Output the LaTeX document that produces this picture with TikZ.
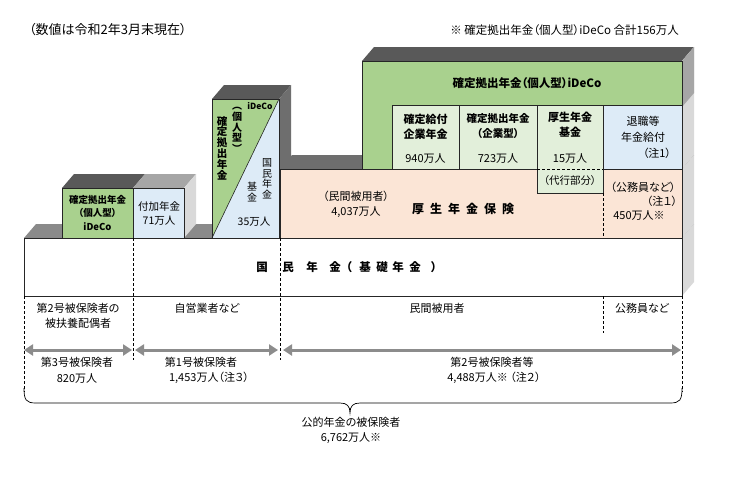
\documentclass[tikz,border=0pt]{standalone}
\usepackage{fontspec}
\setmainfont{Noto Sans CJK JP}[RawFeature={+palt}]
\usetikzlibrary{arrows.meta}
\definecolor{gA}{HTML}{A9D18E}
\definecolor{gB}{HTML}{E2EFDA}
\definecolor{bA}{HTML}{DDEBF7}
\definecolor{oA}{HTML}{FBE5D6}
\definecolor{dk}{HTML}{595959}
\definecolor{dm}{HTML}{6E6E6E}
\definecolor{md}{HTML}{8A8A8A}
\definecolor{mg}{HTML}{A6A6A6}
\definecolor{lt}{HTML}{D9D9D9}
\definecolor{arr}{HTML}{8C8C8C}
\begin{document}
\begin{tikzpicture}[x=1pt,y=-1pt,
 box/.style={draw=black!85, line width=0.6pt},
 t/.style={inner sep=0pt, align=center, font=\fontsize{11}{15}\selectfont},
 tb/.style={inner sep=0pt, align=center, font=\fontsize{11}{15}\selectfont\bfseries},
 dsh/.style={draw=black, line width=0.5pt, dash pattern=on 3pt off 2pt},
 garrow/.style={draw=arr, line width=3pt, {Triangle[length=9pt,width=11pt]}-{Triangle[length=9pt,width=11pt]}}
]
\useasboundingbox (0,0) rectangle (752,480);
\fill[white] (0,0) rectangle (752,480);

% ---- 3D faces
\fill[md] (24,238) -- (36,224) -- (694,224) -- (682,238) -- cycle;
\fill[lt] (682,238) -- (694,224) -- (694,282) -- (682,296) -- cycle;
\fill[dk] (62,188) -- (74,174) -- (145,174) -- (133,188) -- cycle;
\fill[mg] (133,188) -- (145,174) -- (196,174) -- (184,188) -- cycle;
\fill[lt] (184,188) -- (196,174) -- (196,224) -- (184,238) -- cycle;
\fill[dk] (212,99) -- (224,85) -- (291,85) -- (279,99) -- cycle;
\fill[dm] (279,99) -- (291,85) -- (291,224) -- (279,238) -- cycle;
\fill[dm] (280,169) -- (292,155) -- (694,155) -- (682,169) -- cycle;
\fill[lt] (682,169) -- (694,155) -- (694,224) -- (682,238) -- cycle;
\fill[dk] (362,61) -- (374,47) -- (694,47) -- (682,61) -- cycle;
\fill[lt] (682,61) -- (694,47) -- (694,155) -- (682,169) -- cycle;
\fill[mg] (682,61) -- (694,47) -- (694,93) -- (682,107) -- cycle;

% ---- fronts
\draw[box, fill=white] (24,238) rectangle (682,296);
\draw[box, fill=gA] (62,188) rectangle (133,238);
\draw[box, fill=bA] (133,188) rectangle (184,238);
\fill[bA] (212,99) rectangle (279,238);
\fill[gA] (212,99) -- (279,99) -- (212,238) -- cycle;
\draw[box] (212,99) rectangle (279,238);
\draw[box] (212,238) -- (279,99);
\draw[box, fill=oA] (280,169) rectangle (682,238);
\draw[box, fill=gA] (362,61) rectangle (682,169);
\draw[box, fill=gB] (392,105) rectangle (459,169);
\draw[box, fill=gB] (459,105) rectangle (537,169);
\draw[box, fill=gB] (537,105) rectangle (603,193);
\draw[box, fill=bA] (603,105) rectangle (682,169);
\draw[dsh] (537,169) -- (603,169);
\draw[dsh] (603,193) -- (603,238);

% ---- dashed guides
\draw[dsh] (133,238) -- (133,360);
\draw[dsh] (280,238) -- (280,360);
\draw[dsh] (603,296) -- (603,333);
\draw[dsh] (24,296) -- (24,392);
\draw[dsh] (682,296) -- (682,392);

% ---- texts top
\node[t, anchor=west, font=\fontsize{13}{15}\selectfont] (note) at (29,30) {（数値は令和2年3月末現在）};
\node[t, anchor=east, font=\fontsize{11.5}{14}\selectfont] (sum) at (679,30) {※ 確定拠出年金（個人型）iDeCo 合計156万人};

% small boxes
\node[tb, font=\fontsize{9.5}{13.5}\selectfont\bfseries] (ib) at (97.5,212.5) {確定拠出年金\\（個人型）\\iDeCo};
\node[t, font=\fontsize{10.5}{14}\selectfont] (fk) at (159,213) {付加年金\\71万人};

% triangle box
\node[tb, font=\fontsize{10.5}{10.8}\selectfont\bfseries] (tv1) at (222,148) {確\\定\\拠\\出\\年\\金};
\node[tb, font=\fontsize{10}{10.8}\selectfont\bfseries] (tv2) at (237,130) {︵\\個\\人\\型\\︶};
\node[tb, font=\fontsize{8.5}{10}\selectfont\bfseries] (tv3) at (260,106) {iDeCo};
\node[t, font=\fontsize{10}{10.5}\selectfont] (kf1) at (267,179) {国\\民\\年\\金};
\node[t, font=\fontsize{10}{10.5}\selectfont] (kf2) at (252,192) {基\\金};
\node[t, font=\fontsize{10.5}{12}\selectfont] (kf3) at (254,222) {35万人};

% big green
\node[tb, font=\fontsize{11.5}{14}\selectfont\bfseries] (hd) at (527,83) {確定拠出年金（個人型）iDeCo};
\node[tb] (db) at (425.5,126.5) {確定給付\\企業年金};
\node[t] (dbn) at (425.5,158) {940万人};
\node[tb, font=\fontsize{10.5}{15}\selectfont\bfseries] (dc) at (498,126.5) {確定拠出年金\\（企業型）};
\node[t] (dcn) at (498,158) {723万人};
\node[tb] (kk) at (570,124.5) {厚生年金\\基金};
\node[t] (kkn) at (570,158) {15万人};
\node[t, font=\fontsize{10.5}{14}\selectfont] (dkb) at (570,181) {（代行部分）};
\node[t, font=\fontsize{11}{16}\selectfont] (tk) at (643,129) {退職等\\年金給付};
\node[t] (tkn) at (657,153) {（注1）};

% orange
\node[t] (mk) at (356,204.5) {（民間被用者）\\4,037万人};
\node[tb, font=\fontsize{12}{14}\selectfont\bfseries] (kh) at (463,209) {厚\hspace{6pt}生\hspace{6pt}年\hspace{6pt}金\hspace{6pt}保\hspace{6pt}険};
\node[t] (km1) at (643,187) {（公務員など）};
\node[t] (km2) at (662,201) {（注１）};
\node[t] (km3) at (639,215) {450万人※};

% base title, one glyph per node at measured positions
\foreach \ch/\xx [count=\i] in {国/262, 民/288, 年/312, 金/335, （/349, 基/365, 礎/382, 年/398, 金/415, ）/434}
  \node[tb, font=\fontsize{11.5}{14}\selectfont\bfseries] (kn\i) at (\xx,267) {\ch};

% labels under base
\node[t] (l1) at (78,315.5) {第2号被保険者の\\被扶養配偶者};
\node[t] (l2) at (207,308) {自営業者など};
\node[t] (l3) at (437,308) {民間被用者};
\node[t] (l4) at (642,308) {公務員など};

% arrows
\coordinate (a1) at (24,350);
\coordinate (a2) at (132,350);
\coordinate (b1) at (135,350);
\coordinate (b2) at (278,350);
\coordinate (c1) at (283,350);
\coordinate (c2) at (681,350);
\draw[garrow] (a1) -- (a2);
\draw[garrow] (b1) -- (b2);
\draw[garrow] (c1) -- (c2);

\node[t, font=\fontsize{11}{16}\selectfont] (p3) at (77,370) {第3号被保険者\\820万人};
\node[t] (p1a) at (201,362) {第1号被保険者};
\node[t] (p1b) at (209,378) {1,453万人（注３）};
\node[t] (p2a) at (492,362) {第2号被保険者等};
\node[t] (p2b) at (494,378) {4,488万人※ （注２）};

% brace
\coordinate (bl) at (24,388);
\coordinate (br) at (682,388);
\coordinate (bt) at (350,413);
\draw[line width=0.7pt] (bl) .. controls (24,400) and (26,403) .. (36,403) -- (340,403)
  .. controls (347,403) and (350,406) .. (bt)
  .. controls (350,406) and (353,403) .. (360,403) -- (670,403)
  .. controls (680,403) and (682,400) .. (br);
\node[t] (tot) at (351,430.5) {公的年金の被保険者\\6,762万人※};
\end{tikzpicture}
\end{document}
